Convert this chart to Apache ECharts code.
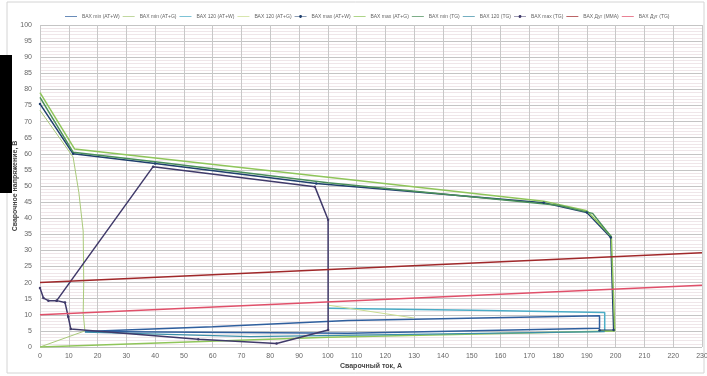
<!DOCTYPE html>
<html><head><meta charset="utf-8">
<script src="https://cdn.jsdelivr.net/npm/echarts@6/dist/echarts.min.js"></script>
<style>html,body{margin:0;padding:0;background:#fff}#c{width:707px;height:376px}</style>
</head><body><div id="c"></div>
<script>
const seriesNames = ['ВАХ min (AT+W)','ВАХ min (AT+G)','ВАХ 120 (AT+W)','ВАХ 120 (AT+G)','ВАХ max (AT+W)','ВАХ max (AT+G)','ВАХ min (TG)','ВАХ 120 (TG)','ВАХ max (TG)','ВАХ Дуг (MMA)','ВАХ Дуг (TG)'];
const xTicks = [0,10,20,30,40,50,60,70,80,90,100,110,120,130,140,150,160,170,180,190,200,210,220,230];
const minAtW = [[15.6,4.8],[60,6.3],[107,8.2],[194.4,9.7],[194.4,5.8],[107,4.3],[15.6,4.8]];
const minAtG = [[0,73.5],[11.5,59],[13.5,48],[15,36],[15.2,20],[15,10.5],[15.6,5],[0,0]];
const w120AtW = [[100,12],[150,11.4],[196.2,10.7],[196.2,4.8]];
const w120AtG = [[100,13],[130,9]];
const maxAtW = [[0,75.5],[11.5,60],[40,57],[96,50.8],[175,44.8],[190,41.8],[198.3,34],[199.3,5.3],[194.4,5.2]];
const maxAtG = [[0,79],[12,61.5],[175,45.3],[190,42.3],[198.5,34.3],[199.7,5],[199.7,4.8],[100,3],[0,0]];
const minTg = [[0,77.5],[11.5,60.5],[40,57.5],[100,51],[180,44],[192,41.5],[198.5,34.2]];
const w120Tg = [[15.6,4.6],[73,3.2],[196.2,4.8]];
const maxTg = [[0,18.3],[1.2,15.2],[2.9,14.4],[5.8,14.4],[39.3,56],[95.5,49.8],[100.1,39.5],[100.1,5.3],[82.2,1.1],[55,2.4],[10.7,5.6],[9.8,9.4],[8.7,13.8],[5.8,14.4]];
const arcMma = [[0,20],[230,29.3]];
const arcTg = [[0,10],[230,19.2]];
const seriesData = [minAtW,minAtG,w120AtW,w120AtG,maxAtW,maxAtG,minTg,w120Tg,maxTg,arcMma,arcTg];
const colors = ['#2f5f9e','#a9c97a','#4bacc6','#c9dd8f','#1f3f6d','#8fc55a','#4a8f5a','#3d8fa8','#403a6a','#a0282a','#e0506a'];
const widths = [1.5,1,1.5,1,1.5,1.5,1.5,1.2,1.5,1.5,1.5];
const withMarkers = [false,false,false,false,true,false,false,false,true,false,false];
const lineIcon = 'path://M0,4.4H20V5.6H0Z';
const markIcon = 'path://M0,4.4H7.6A2.5,2.5 0 0 1 12.4,4.4H20V5.6H12.4A2.5,2.5 0 0 1 7.6,5.6H0Z';

const chart = echarts.init(document.getElementById('c'));
chart.setOption({
  animation:false,
  backgroundColor:'#fff',
  graphic:[
    {type:'rect',shape:{x:7,y:2,width:697,height:371},style:{fill:'none',stroke:'#d4d4d4',lineWidth:1},z:-1},
    {type:'rect',shape:{x:0,y:55,width:12,height:138},style:{fill:'#000'}}
  ],
  legend:{
    top:9,left:60,width:660,itemWidth:12,itemHeight:6,itemGap:3,
    textStyle:{fontSize:5,color:'#666',fontFamily:'Liberation Sans'},
    data:seriesNames.map((n,i)=>({name:n,icon:withMarkers[i]?markIcon:lineIcon}))
  },
  grid:{left:40,right:5,top:25,bottom:29,outerBoundsMode:'none',containLabel:false},
  xAxis:{
    type:'value',min:0,max:230,interval:10,
    name:'Сварочный ток, А',nameLocation:'middle',nameGap:16,nameMoveOverlap:false,
    nameTextStyle:{fontSize:7,fontWeight:'bold',color:'#444',fontFamily:'Liberation Sans'},
    axisLine:{show:false},axisTick:{show:false},
    axisLabel:{fontSize:7,color:'#666',margin:6,fontFamily:'Liberation Sans'},
    splitLine:{show:true,lineStyle:{color:'#c8c8c8',width:1}}
  },
  yAxis:{
    type:'value',min:0,max:100,interval:5,
    name:'Сварочное напряжение, В',nameLocation:'middle',nameGap:21,nameMoveOverlap:false,
    nameTextStyle:{fontSize:7,fontWeight:'bold',color:'#444',fontFamily:'Liberation Sans'},
    axisLine:{show:false},axisTick:{show:false},
    axisLabel:{fontSize:7,color:'#666',margin:8,fontFamily:'Liberation Sans'},
    splitLine:{show:true,lineStyle:{color:'#c4c4c4',width:1}},
    minorTick:{show:false,splitNumber:5},
    minorSplitLine:{show:true,lineStyle:{color:'#efe6e9',width:1}}
  },
  series: seriesNames.map((n,i)=>({
    name:n,type:'line',data:seriesData[i],
    symbol:withMarkers[i]?'circle':'none',symbolSize:2.5,showSymbol:withMarkers[i],
    lineStyle:{color:colors[i],width:widths[i]},itemStyle:{color:colors[i]},
    z: i>=9?3:2
  }))
});
</script></body></html>
